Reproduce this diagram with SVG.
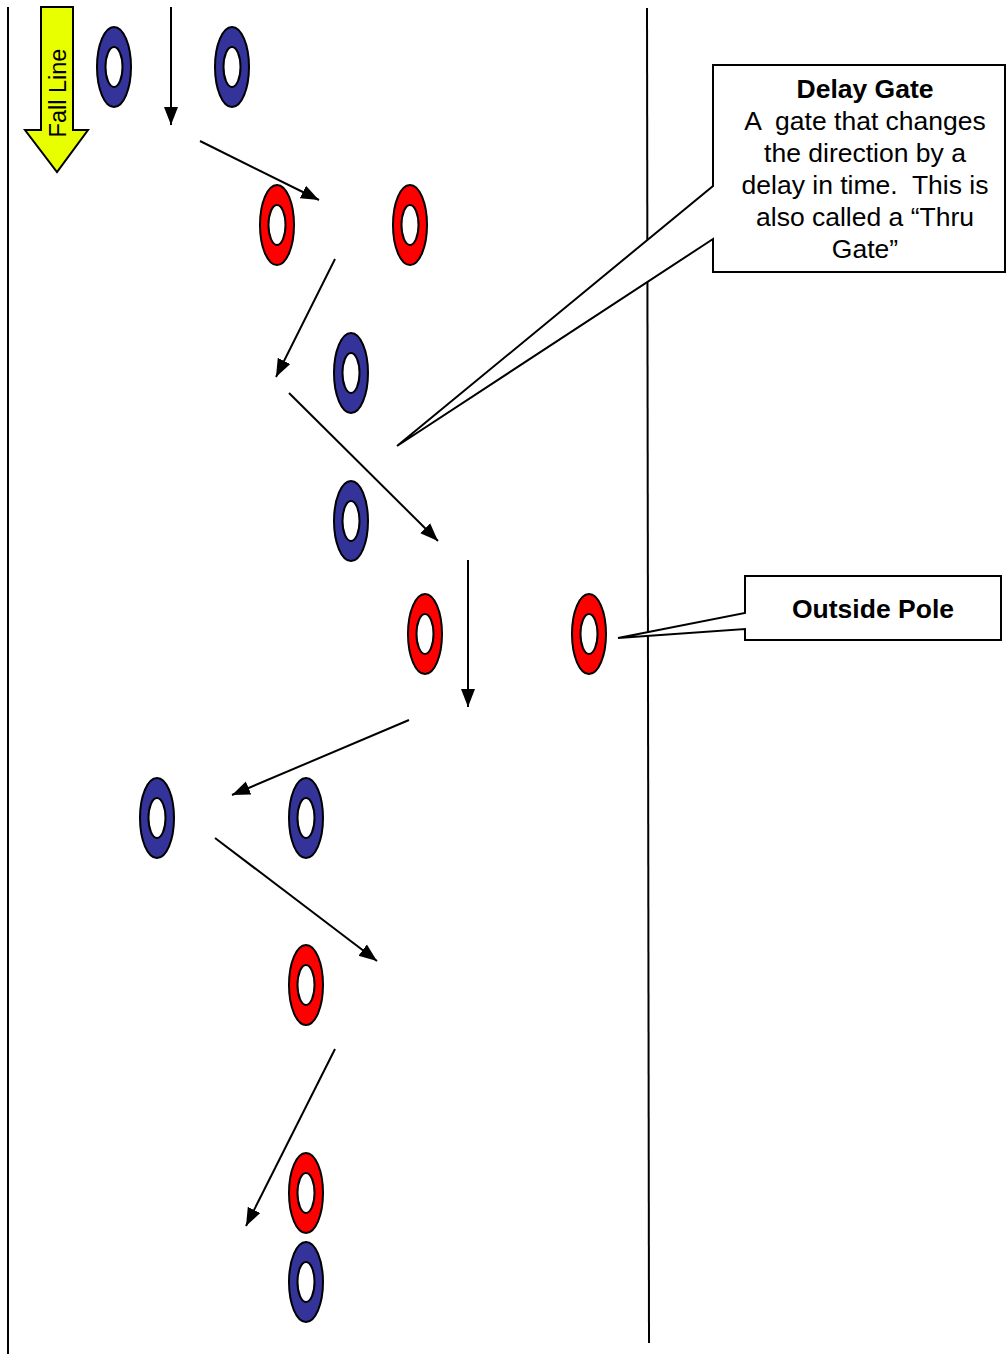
<svg xmlns="http://www.w3.org/2000/svg" width="1006" height="1354" viewBox="0 0 1006 1354">
<style>
.ring-blue{fill:#333399;stroke:#000;stroke-width:2}
.ring-red{fill:#ff0000;stroke:#000;stroke-width:2}
.hole{fill:#fff;stroke:#000;stroke-width:2}
.conn{stroke:#000;stroke-width:2;fill:none;marker-end:url(#ah)}
.bound{stroke:#000;stroke-width:2;fill:none}
.callout{fill:#fff;stroke:#000;stroke-width:2;stroke-linejoin:miter}
.txt{font-family:"Liberation Sans",Arial,sans-serif;font-size:26.5px;fill:#000;text-anchor:middle;white-space:pre}
.b{font-weight:bold}
</style>
<defs>
<marker id="ah" markerUnits="userSpaceOnUse" markerWidth="20" markerHeight="16" refX="18" refY="8" orient="auto">
<path d="M0,1 L18,8 L0,15 Z" fill="#000"/>
</marker>
</defs>
<rect width="1006" height="1354" fill="#fff"/>
<g id="boundaries">
<line class="bound" x1="8" y1="7" x2="8" y2="1354"/>
<line class="bound" x1="647" y1="8" x2="649" y2="1343"/>
</g>
<g id="fall-line">
<path d="M41,7 H73 V130 H88 L57,172 L25,130 H41 Z" fill="#e8ff00" stroke="#000" stroke-width="2"/>
<text class="txt" style="font-size:23.5px" transform="translate(66,93) rotate(-90)">Fall Line</text>
</g>
<g id="gate-1"><ellipse class="ring-blue" cx="114" cy="67" rx="17" ry="40"/><ellipse class="hole" cx="114" cy="67" rx="8.5" ry="20"/></g>
<g id="gate-2"><ellipse class="ring-blue" cx="232" cy="67" rx="17" ry="40"/><ellipse class="hole" cx="232" cy="67" rx="8.5" ry="20"/></g>
<g id="gate-3"><ellipse class="ring-red" cx="277" cy="225" rx="17" ry="40"/><ellipse class="hole" cx="277" cy="225" rx="8.5" ry="20"/></g>
<g id="gate-4"><ellipse class="ring-red" cx="410" cy="225" rx="17" ry="40"/><ellipse class="hole" cx="410" cy="225" rx="8.5" ry="20"/></g>
<g id="gate-5"><ellipse class="ring-blue" cx="351" cy="373" rx="17" ry="40"/><ellipse class="hole" cx="351" cy="373" rx="8.5" ry="20"/></g>
<g id="gate-6"><ellipse class="ring-blue" cx="351" cy="521" rx="17" ry="40"/><ellipse class="hole" cx="351" cy="521" rx="8.5" ry="20"/></g>
<g id="gate-7"><ellipse class="ring-red" cx="425" cy="634" rx="17" ry="40"/><ellipse class="hole" cx="425" cy="634" rx="8.5" ry="20"/></g>
<g id="gate-8"><ellipse class="ring-red" cx="589" cy="634" rx="17" ry="40"/><ellipse class="hole" cx="589" cy="634" rx="8.5" ry="20"/></g>
<g id="gate-9"><ellipse class="ring-blue" cx="157" cy="818" rx="17" ry="40"/><ellipse class="hole" cx="157" cy="818" rx="8.5" ry="20"/></g>
<g id="gate-10"><ellipse class="ring-blue" cx="306" cy="818" rx="17" ry="40"/><ellipse class="hole" cx="306" cy="818" rx="8.5" ry="20"/></g>
<g id="gate-11"><ellipse class="ring-red" cx="306" cy="985" rx="17" ry="40"/><ellipse class="hole" cx="306" cy="985" rx="8.5" ry="20"/></g>
<g id="gate-12"><ellipse class="ring-red" cx="306" cy="1193" rx="17" ry="40"/><ellipse class="hole" cx="306" cy="1193" rx="8.5" ry="20"/></g>
<g id="gate-13"><ellipse class="ring-blue" cx="306" cy="1282" rx="17" ry="40"/><ellipse class="hole" cx="306" cy="1282" rx="8.5" ry="20"/></g>
<g id="connectors">
<line class="conn" x1="171" y1="7" x2="171" y2="125"/>
<line class="conn" x1="200" y1="141" x2="319" y2="200"/>
<line class="conn" x1="335" y1="259" x2="276" y2="377"/>
<line class="conn" x1="289" y1="393" x2="438" y2="541"/>
<line class="conn" x1="468" y1="560" x2="468" y2="707"/>
<line class="conn" x1="409" y1="720" x2="232" y2="795"/>
<line class="conn" x1="215" y1="838" x2="377" y2="961"/>
<line class="conn" x1="335" y1="1049" x2="246" y2="1226"/>
</g>
<g id="callout-delay-gate">
<path class="callout" d="M713,65 H1005 V272 H713 V239 L397,446 L713,186 Z"/>
<text class="txt b" x="865" y="98">Delay Gate</text>
<text class="txt" x="865" y="130" xml:space="preserve">A  gate that changes</text>
<text class="txt" x="865" y="162">the direction by a</text>
<text class="txt" x="865" y="194" xml:space="preserve">delay in time.  This is</text>
<text class="txt" x="865" y="226">also called a “Thru</text>
<text class="txt" x="865" y="258">Gate”</text>
</g>
<g id="callout-outside-pole">
<path class="callout" d="M745,576 H1001 V640 H745 V629 L618,638 L745,613 Z"/>
<text class="txt b" x="873" y="618">Outside Pole</text>
</g>
</svg>
